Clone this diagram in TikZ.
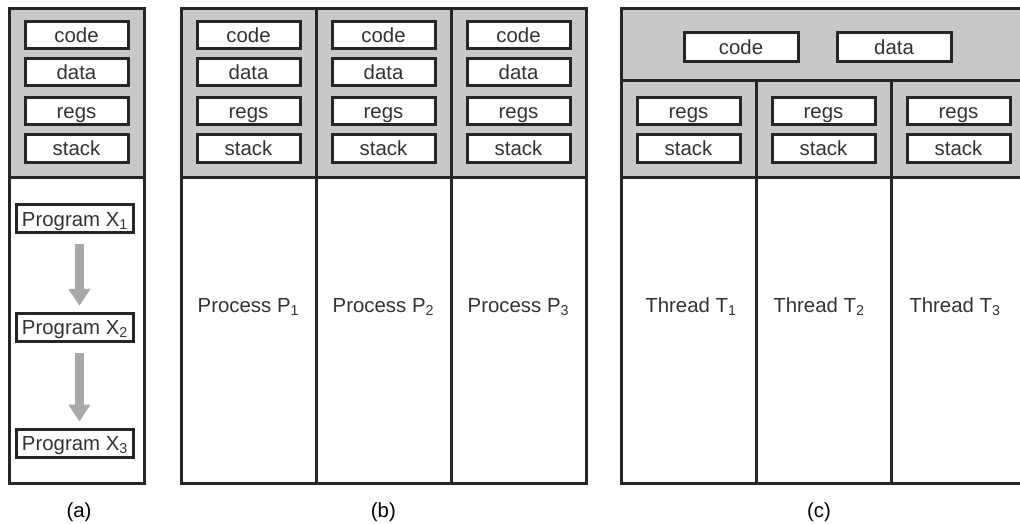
\documentclass[tikz,border=0pt]{standalone}
\usepackage{fontspec}
\setmainfont{Liberation Sans}
\usetikzlibrary{arrows.meta}
\definecolor{boxgray}{HTML}{C8C8C8}
\definecolor{arrowgray}{HTML}{A8A8A8}
\definecolor{inkgray}{HTML}{262626}
\tikzset{
	membox/.style={draw=inkgray, line width=0.75mm, fill=white, text=black!80, minimum width=2.575cm, minimum height=0.68cm, inner sep=0pt, text height=12pt, text depth=1.5pt},
	prgbox/.style={membox, minimum width=2.925cm, minimum height=0.7cm},
	frame/.style={draw=inkgray, line width=0.75mm},
	flowarrow/.style={draw=arrowgray, line width=0.225cm, -{Triangle[width=0.525cm,length=0.425cm]}, shorten <=0.25cm, shorten >=0.15cm},
}

\begin{document}
\begin{tikzpicture}[font=\fontsize{14.5}{17}\selectfont]
			%%%%% START %%%%%
			\useasboundingbox (-0.225, -1) rectangle (25.275, 12.075);
			
			% (a) one program after the other
			\fill[boxgray] (0, 7.625) rectangle (3.375, 11.85);
			\draw[frame] (0, 0) rectangle (3.375, 11.85);
			\draw[frame] (0, 7.625) -- (3.375, 7.625);
			
			\node[membox] (acode) at (1.6875, 11.2) {code};
			\node[membox] (adata) at (1.6875, 10.275) {data};
			\node[membox] (aregs) at (1.6875, 9.3) {regs};
			\node[membox] (astack) at (1.6875, 8.36) {stack};
			
			\node[prgbox] (x1) at (1.65, 6.6) {Program X\textsubscript{1}};
			\node[prgbox] (x2) at (1.65, 3.89) {Program X\textsubscript{2}};
			\node[prgbox] (x3) at (1.65, 1.0) {Program X\textsubscript{3}};
			\draw[flowarrow] ([xshift=1.1mm]x1.south) -- ([xshift=1.1mm]x2.north);
			\draw[flowarrow] ([xshift=1.1mm]x2.south) -- ([xshift=1.1mm]x3.north);
			
			\node (capa) at (1.75, -0.725) {(a)};
			
			% (b) three processes, each with its own code and data
			\fill[boxgray] (4.3, 7.625) rectangle (14.425, 11.85);
			\draw[frame] (4.3, 0) rectangle (14.425, 11.85);
			\draw[frame] (4.3, 7.625) -- (14.425, 7.625);
			\draw[frame] (7.675, 0) -- (7.675, 11.85);
			\draw[frame] (11.05, 0) -- (11.05, 11.85);
			
			\node[membox] (bcode1) at (5.9875, 11.2) {code};
			\node[membox] (bdata1) at (5.9875, 10.275) {data};
			\node[membox] (bregs1) at (5.9875, 9.3) {regs};
			\node[membox] (bstack1) at (5.9875, 8.36) {stack};
			
			\node[membox] (bcode2) at (9.3625, 11.2) {code};
			\node[membox] (bdata2) at (9.3625, 10.275) {data};
			\node[membox] (bregs2) at (9.3625, 9.3) {regs};
			\node[membox] (bstack2) at (9.3625, 8.36) {stack};
			
			\node[membox] (bcode3) at (12.7375, 11.2) {code};
			\node[membox] (bdata3) at (12.7375, 10.275) {data};
			\node[membox] (bregs3) at (12.7375, 9.3) {regs};
			\node[membox] (bstack3) at (12.7375, 8.36) {stack};
			
			\node[text=black!80] (p1) at (5.9875, 4.4) {Process P\textsubscript{1}};
			\node[text=black!80] (p2) at (9.3625, 4.4) {Process P\textsubscript{2}};
			\node[text=black!80] (p3) at (12.7375, 4.4) {Process P\textsubscript{3}};
			
			\node (capb) at (9.36, -0.725) {(b)};
			
			% (c) three threads sharing code and data
			\fill[boxgray] (15.3, 7.625) rectangle (25.425, 11.85);
			\draw[frame] (15.3, 0) rectangle (25.425, 11.85);
			\draw[frame] (15.3, 10.05) -- (25.425, 10.05);
			\draw[frame] (15.3, 7.625) -- (25.425, 7.625);
			\draw[frame] (18.675, 0) -- (18.675, 10.05);
			\draw[frame] (22.05, 0) -- (22.05, 10.05);
			
			\node[membox, minimum width=2.85cm, minimum height=0.72cm] (ccode) at (18.3, 10.9) {code};
			\node[membox, minimum width=2.85cm, minimum height=0.72cm] (cdata) at (22.125, 10.9) {data};
			
			\node[membox] (cregs1) at (16.9875, 9.3) {regs};
			\node[membox] (cstack1) at (16.9875, 8.36) {stack};
			\node[membox] (cregs2) at (20.3625, 9.3) {regs};
			\node[membox] (cstack2) at (20.3625, 8.36) {stack};
			\node[membox] (cregs3) at (23.7375, 9.3) {regs};
			\node[membox] (cstack3) at (23.7375, 8.36) {stack};
			
			\node[text=black!80] (t1) at (17.05, 4.4) {Thread T\textsubscript{1}};
			\node[text=black!80] (t2) at (20.25, 4.4) {Thread T\textsubscript{2}};
			\node[text=black!80] (t3) at (23.65, 4.4) {Thread T\textsubscript{3}};
			
			\node (capc) at (20.25, -0.725) {(c)};
			%%%%% END %%%%%
\end{tikzpicture}
\end{document}
